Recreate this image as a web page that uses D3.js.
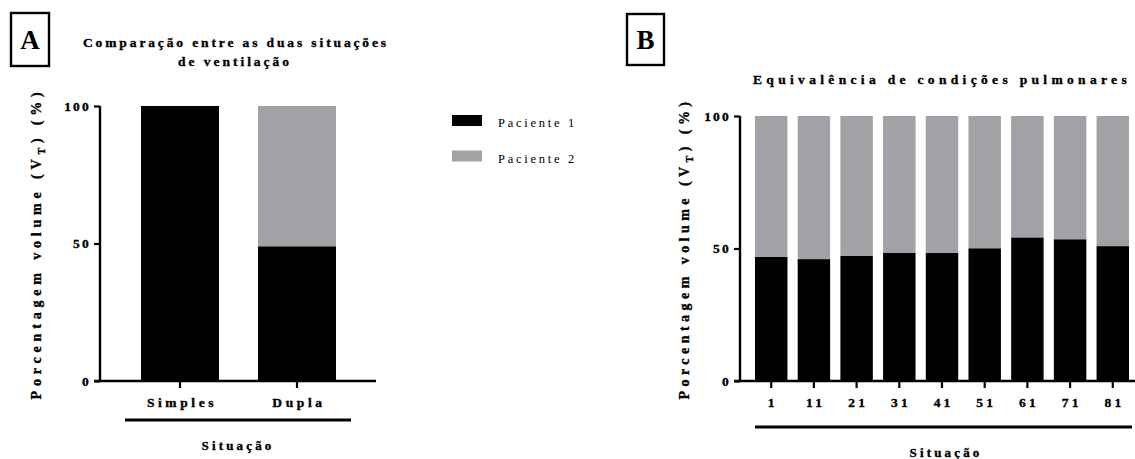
<html>
<head>
    <script src="https://d3js.org/d3.v7.min.js"></script>
    <style>
        body { margin: 0; background: white; }
        svg text { font-family: "Liberation Serif", "Times New Roman", serif; fill: black; }
        svg text.heavy, .tick text { stroke: black; stroke-width: 0.35px; }
    </style>
</head>
<body>
<svg id="chart" width="1135" height="459" font-family="Liberation Serif"></svg>
<script>
// data
const situacoesA = ["Simples", "Dupla"];
const paciente1A = [100, 49];
const situacoesB = ["1", "11", "21", "31", "41", "51", "61", "71", "81"];
const paciente1B = [46.9, 46.0, 47.2, 48.3, 48.4, 50.1, 54.2, 53.5, 50.9];
const yTicks = [0, 50, 100];
const legendLabels = ["Paciente 1", "Paciente 2"];
const colors = ["#000000", "#a2a1a6"];

let svg = d3.select("svg#chart");

// stretch a text to a given width with letter spacing (GraphPad style)
function fit(sel, width) {
    sel.each(function () {
        let n = this.textContent.length;
        this.style.letterSpacing = "0px";
        let len = this.getComputedTextLength();
        this.style.letterSpacing = ((width - len) / n) + "px";
    });
    return sel;
}

function drawPanel(opts) {
    let g = svg.append("g");
    let x = d3.scaleBand().domain(opts.cats).range(opts.xRange)
        .paddingInner(opts.padIn).paddingOuter(0);
    let y = d3.scaleLinear().domain([0, 100]).range(opts.yRange);

    let rows = opts.cats.map((c, i) => ({cat: c, p1: opts.values[i], p2: 100 - opts.values[i]}));
    let stack = d3.stack().keys(["p1", "p2"])(rows);

    g.selectAll("g.layer").data(stack).join("g")
        .attr("fill", (d, i) => colors[i])
        .selectAll("rect").data(d => d).join("rect")
        .attr("x", d => x(d.data.cat))
        .attr("width", x.bandwidth())
        .attr("y", d => y(d[1]))
        .attr("height", d => y(d[0]) - y(d[1]));

    // y axis
    let yAxis = g.append("g").attr("transform", `translate(${opts.axisX},0)`)
        .call(d3.axisLeft(y).tickValues(yTicks).tickSize(6).tickPadding(3));
    yAxis.attr("font-family", "Liberation Serif");
    yAxis.select(".domain").attr("d", `M0,${y(100)}V${y(0)}`).attr("stroke-width", 2.4);
    yAxis.selectAll(".tick line").attr("stroke-width", 2.2);
    yAxis.selectAll(".tick text")
        .style("font-weight", "bold").style("font-size", "13.5px").style("letter-spacing", "2.2px");

    // x axis
    let xAxis = g.append("g").attr("transform", `translate(0,${y(0)})`)
        .call(d3.axisBottom(x).tickSize(7).tickPadding(9));
    xAxis.attr("font-family", "Liberation Serif");
    xAxis.select(".domain").attr("d", `M${opts.axisX - 6},0H${opts.xEnd}`).attr("stroke-width", 2.4);
    xAxis.selectAll(".tick line").attr("stroke-width", 2.2);
    xAxis.selectAll(".tick text")
        .style("font-weight", "bold").style("font-size", "13.5px").style("letter-spacing", opts.catSpacing)
        .attr("dx", opts.catDx);

    // group underline and label
    g.append("line").attr("x1", opts.underline[0]).attr("x2", opts.underline[1])
        .attr("y1", opts.underlineY).attr("y2", opts.underlineY)
        .attr("stroke", "black").attr("stroke-width", 3);
    fit(g.append("text").attr("class", "heavy").attr("x", opts.sitX).attr("y", opts.sitY)
        .attr("text-anchor", "middle").attr("font-weight", "bold").attr("font-size", "13px")
        .text("Situação"), 73);

    // y label
    let yl = g.append("text").attr("class", "heavy")
        .attr("transform", `translate(${opts.ylabX},${(y(0) + y(100)) / 2}) rotate(-90)`)
        .attr("text-anchor", "middle").attr("font-weight", "bold").attr("font-size", "14px");
    yl.append("tspan").text("Porcentagem volume (V");
    yl.append("tspan").attr("dy", 4).attr("font-size", "10px").text("T");
    yl.append("tspan").attr("dy", -4).text(") (%)");
    fit(yl, opts.ylabW);

    // panel letter box
    g.append("rect").attr("x", opts.box[0]).attr("y", opts.box[1])
        .attr("width", opts.box[2]).attr("height", opts.box[3])
        .attr("fill", "none").attr("stroke", "black").attr("stroke-width", 2.4);
    g.append("text").attr("x", opts.box[0] + opts.box[2] / 2).attr("y", opts.box[1] + opts.box[3] / 2 + 9)
        .attr("text-anchor", "middle").attr("font-weight", "bold").attr("font-size", "27px")
        .text(opts.letter);

    // titles
    opts.titles.forEach(t => {
        fit(g.append("text").attr("class", "heavy").attr("x", t.x).attr("y", t.y)
            .attr("font-weight", "bold").attr("font-size", "13.5px").text(t.text), t.w);
    });
    return g;
}

drawPanel({
    cats: situacoesA, values: paciente1A,
    xRange: [141, 336], padIn: 1 / 3, yRange: [381, 106],
    axisX: 100, xEnd: 376, catSpacing: "3.6px", catDx: "2px",
    underline: [125, 351], underlineY: 420, sitX: 238, sitY: 450,
    ylabX: 41, ylabW: 312, box: [11, 13, 38, 53], letter: "A",
    titles: [
        {text: "Comparação entre as duas situações", x: 83, y: 47, w: 306},
        {text: "de ventilação", x: 178, y: 66, w: 114}
    ]
});

drawPanel({
    cats: situacoesB, values: paciente1B,
    xRange: [755, 1129], padIn: 0.24, yRange: [381, 116],
    axisX: 740, xEnd: 1140, catSpacing: "3.2px", catDx: "1.6px",
    underline: [755, 1132], underlineY: 427, sitX: 946, sitY: 457,
    ylabX: 689, ylabW: 302, box: [627, 14, 37, 51], letter: "B",
    titles: [
        {text: "Equivalência de condições pulmonares", x: 753, y: 84, w: 378}
    ]
});

// legend
let legend = svg.append("g");
legendLabels.forEach((l, i) => {
    legend.append("rect").attr("x", 452).attr("y", 115 + i * 35.5)
        .attr("width", 30).attr("height", 11).attr("fill", colors[i]);
    fit(legend.append("text").attr("x", 498).attr("y", 127 + i * 36)
        .attr("font-size", "12.5px").text(l), 79);
});
</script>
</body>
</html>
